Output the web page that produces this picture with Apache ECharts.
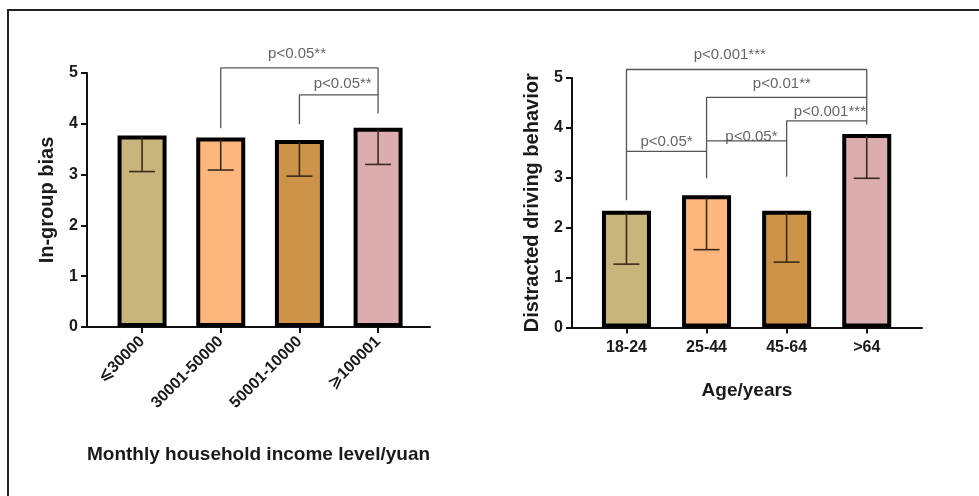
<!DOCTYPE html>
<html>
<head>
<meta charset="utf-8">
<script src="https://cdn.jsdelivr.net/npm/echarts@6/dist/echarts.min.js"></script>
<style>html,body{margin:0;padding:0;background:#fff;}#c{width:979px;height:496px;}</style>
</head>
<body>
<div id="c"></div>
<script>
// ---- Data ----
const incomeCats = ['⩽30000', '30001-50000', '50001-10000', '⩾100001'];
const incomeMean = [3.77, 3.73, 3.68, 3.92];
const incomeLow  = [3.06, 3.09, 2.97, 3.20];
const ageCats = ['18-24', '25-44', '45-64', '>64'];
const ageMean = [2.34, 2.65, 2.34, 3.88];
const ageLow  = [1.27, 1.56, 1.31, 2.99];
const barColors = ['#c8b57c', '#fdb67c', '#cd9449', '#dcadae'];
const yTicks = [0, 1, 2, 3, 4, 5];
// significance brackets: [x, y] polylines
const incomeBrackets = [
  [[1, 3.91], [1, 5.10], [3, 5.10], [3, 4.21]],
  [[2, 3.99], [2, 4.57], [3, 4.57]]
];
const incomeSigText = [[1.97, 5.37, 'p<0.05**'], [2.55, 4.78, 'p<0.05**']];
const ageBrackets = [
  [[0, 2.55], [0, 5.17], [3, 5.17], [3, 4.07]],
  [[1, 2.99], [1, 4.61], [3, 4.61]],
  [[2, 3.02], [2, 4.14], [3, 4.14]],
  [[0, 3.53], [1, 3.53]],
  [[1, 3.74], [2, 3.74]]
];
const ageSigText = [
  [1.29, 5.46, 'p<0.001***'], [1.94, 4.89, 'p<0.01**'], [2.54, 4.32, 'p<0.001***'],
  [0.50, 3.72, 'p<0.05*'], [1.56, 3.82, 'p<0.05*']
];

const FONT = '"Liberation Sans", Arial, "DejaVu Sans", sans-serif';
const chart = echarts.init(document.getElementById('c'), null, {renderer: 'canvas'});

function xAxisCfg(gridIndex, cats, min, max, rotate, name, nameGap) {
  return {
    type: 'value', gridIndex, min, max,
    name, nameLocation: 'middle', nameGap,
    nameTextStyle: {fontFamily: FONT, fontWeight: 'bold', fontSize: 19, color: '#1a1a1a'},
    axisLine: {show: true, onZero: false, lineStyle: {color: '#111', width: 2}},
    axisTick: {show: true, customValues: [0, 1, 2, 3], length: 6, lineStyle: {color: '#111', width: 2}},
    axisLabel: {customValues: [0, 1, 2, 3], formatter: v => cats[Math.round(v)],
      rotate, margin: rotate ? 12 : 12, fontFamily: FONT, fontWeight: 'bold', fontSize: 16, color: '#1a1a1a'},
    splitLine: {show: false}
  };
}
function yAxisCfg(gridIndex, name) {
  return {
    type: 'value', gridIndex, min: 0, max: 5, interval: 1,
    name, nameLocation: 'middle', nameGap: 30,
    nameTextStyle: {fontFamily: FONT, fontWeight: 'bold', fontSize: 20, color: '#1a1a1a'},
    axisLine: {show: true, onZero: false, lineStyle: {color: '#111', width: 2}},
    axisTick: {show: true, length: 6, lineStyle: {color: '#111', width: 2}},
    axisLabel: {margin: 9, fontFamily: FONT, fontWeight: 'bold', fontSize: 16, color: '#1a1a1a',
      formatter: v => yTicks.includes(v) ? String(v) : ''},
    splitLine: {show: false}
  };
}
function barSeries(idx, vals) {
  return {
    type: 'bar', xAxisIndex: idx, yAxisIndex: idx, barWidth: 49,
    data: vals.map((v, i) => ({value: [i, v], itemStyle: {color: barColors[i]}})),
    itemStyle: {borderColor: '#000', borderWidth: 4},
    silent: true
  };
}
function errSeries(idx, means, lows) {
  return {
    type: 'custom', xAxisIndex: idx, yAxisIndex: idx, z: 5,
    data: means.map((m, i) => [i, m, lows[i]]),
    renderItem: (params, api) => {
      const top = api.coord([api.value(0), api.value(1)]);
      const low = api.coord([api.value(0), api.value(2)]);
      const st = {stroke: '#3b2a1c', lineWidth: 1.6};
      return {type: 'group', children: [
        {type: 'line', shape: {x1: top[0], y1: top[1] + 2, x2: low[0], y2: low[1]}, style: st},
        {type: 'line', shape: {x1: low[0] - 13, y1: low[1], x2: low[0] + 13, y2: low[1]}, style: st}
      ]};
    }
  };
}
function bracketSeries(idx, list) {
  return list.map(pts => ({
    type: 'line', xAxisIndex: idx, yAxisIndex: idx, data: pts, symbol: 'none', clip: false,
    lineStyle: {color: '#555', width: 1.3}, z: 6, silent: true
  }));
}
function textSeries(idx, list) {
  return {
    type: 'scatter', xAxisIndex: idx, yAxisIndex: idx, symbolSize: 0, clip: false, silent: true,
    data: list.map(t => ({value: [t[0], t[1]], name: t[2]})),
    label: {show: true, position: 'inside', formatter: p => p.name,
      fontFamily: FONT, fontSize: 15, color: '#3c3c3c'}, z: 7
  };
}

chart.setOption({
  backgroundColor: '#fff',
  animation: false,
  graphic: [{type: 'polyline', shape: {points: [[8, 496], [8, 10], [979, 10]]},
    style: {stroke: '#222', lineWidth: 2, fill: null}, silent: true}],
  grid: [
    {left: 87, top: 73, width: 343, height: 254},
    {left: 572, top: 78, width: 350, height: 249.5}
  ],
  xAxis: [
    xAxisCfg(0, incomeCats, -0.70, 3.66, 45, 'Monthly household income level/yuan', 118),
    xAxisCfg(1, ageCats, -0.68, 3.69, 0, 'Age/years', 54)
  ],
  yAxis: [yAxisCfg(0, 'In-group bias'), yAxisCfg(1, 'Distracted driving behavior')],
  series: [
    barSeries(0, incomeMean), errSeries(0, incomeMean, incomeLow),
    ...bracketSeries(0, incomeBrackets), textSeries(0, incomeSigText),
    barSeries(1, ageMean), errSeries(1, ageMean, ageLow),
    ...bracketSeries(1, ageBrackets), textSeries(1, ageSigText)
  ]
});
</script>
</body>
</html>
